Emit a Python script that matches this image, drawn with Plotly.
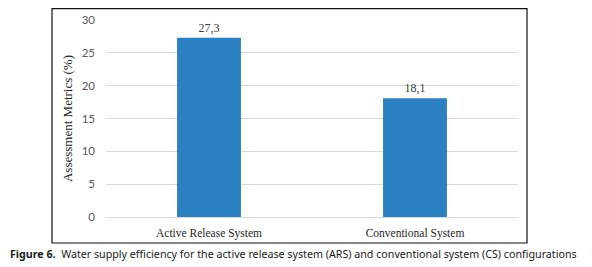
import plotly.graph_objects as go

categories = ["Active Release System", "Conventional System"]
values = [27.3, 18.1]
y_ticks = [0, 5, 10, 15, 20, 25, 30]
y_title = "Assessment Metrics (%)"
caption = "<b>Figure 6.</b>  Water supply efficiency for the active release system (ARS) and conventional system (CS) configurations"

# page body has an 8px margin, so the figure is shifted by (8, 8) in the window
W, H = 584, 259
L, R, T, B = 98, 510, 12, 209  # plot area in figure pixels
pw, ph = R - L, B - T

def px(x):
    return (x - L) / pw

def py(y):
    return (B - y) / ph

fig = go.Figure()
fig.add_trace(go.Bar(
    x=categories, y=values,
    marker=dict(color="#2a80c0", line=dict(width=0)),
    texttemplate="%{y:.1f}", textposition="outside",
    textfont=dict(family="Liberation Serif", size=12, color="#404040"),
    cliponaxis=False,
))

fig.update_layout(
    width=W, height=H,
    margin=dict(l=L, r=W - R, t=T, b=H - B, autoexpand=False),
    paper_bgcolor="white", plot_bgcolor="white",
    separators=",.",
    bargap=0.69,
    showlegend=False,
    xaxis=dict(
        tickfont=dict(family="Liberation Serif", size=11.5, color="#262626"),
        showgrid=False, showline=False, ticks="", ticklabelstandoff=7,
    ),
    yaxis=dict(
        range=[0, 30], tickvals=y_ticks,
        tickfont=dict(family="Lato", size=11.5, color="#595959"),
        showgrid=True, gridcolor="#d9d9d9", gridwidth=1,
        zeroline=True, zerolinecolor="#d9d9d9", zerolinewidth=1,
        showline=False, ticks="", ticklabelstandoff=10,
        title=dict(text=y_title, font=dict(family="Liberation Serif", size=13, color="#262626"), standoff=6),
    ),
)

fig.add_shape(type="rect", xref="paper", yref="paper",
              x0=px(44), x1=px(519), y0=py(235), y1=py(0.7),
              line=dict(color="#111111", width=1.2), fillcolor="rgba(0,0,0,0)", layer="above")

fig.add_annotation(text=caption, xref="paper", yref="paper",
                   x=px(0), y=py(246),
                   xanchor="left", yanchor="middle", showarrow=False,
                   font=dict(family="Noto Sans", size=10.7, color="#1a1a1a"))

fig.write_html("out.html")
